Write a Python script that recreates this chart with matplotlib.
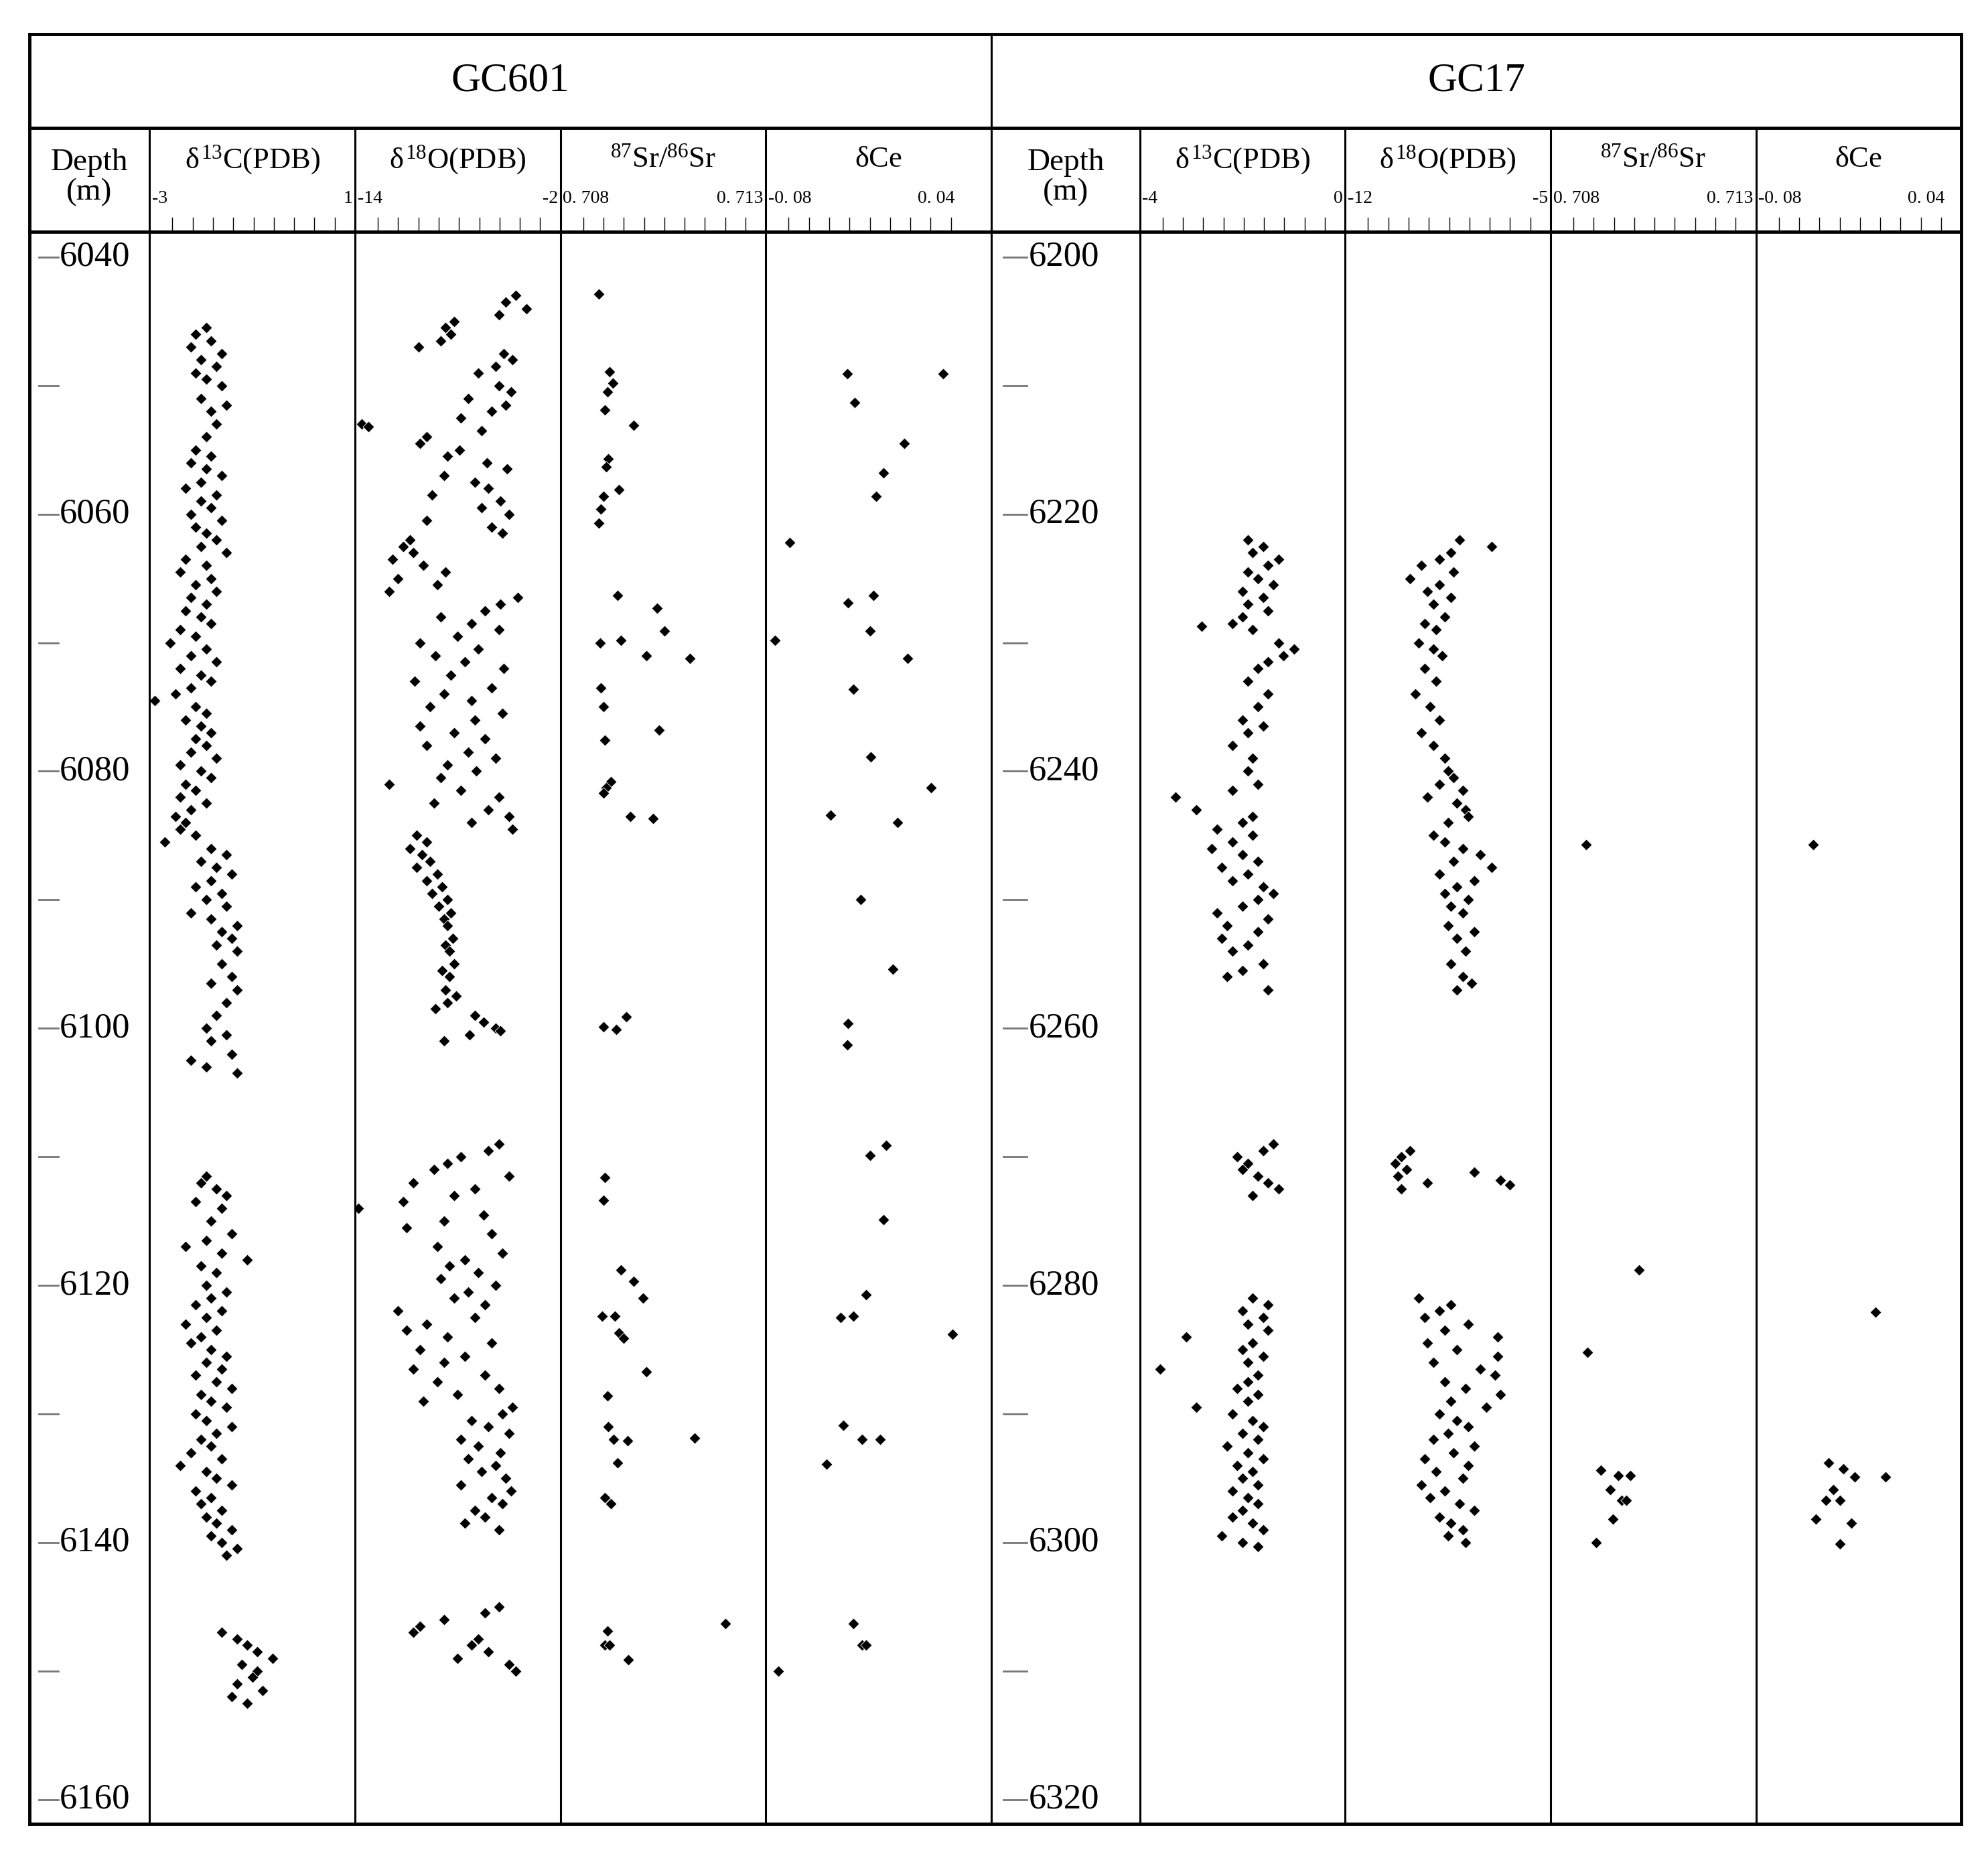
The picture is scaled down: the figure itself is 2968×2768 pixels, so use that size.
import matplotlib
matplotlib.use('Agg')
from matplotlib import pyplot as plt
from matplotlib.lines import Line2D

plt.rcParams['font.family'] = ['Liberation Serif', 'DejaVu Serif']
plt.rcParams['mathtext.fontset'] = 'custom'
plt.rcParams['mathtext.rm'] = 'Liberation Serif'
plt.rcParams['mathtext.it'] = 'Liberation Serif'

# ---------------- data ----------------
c601_depth = [6045.5,6046,6046.5,6047,6047.5,6048,6048.5,6049,6049.5,6050,6051,6051.5,6052,6053,6054,6055,6055.5,6056,6056.5,6057,
    6057.5,6058,6058.5,6059,6059.5,6060,6060.5,6061,6061.5,6062,6062.5,6063,6063.5,6064,6064.5,6065,6065.5,6066,6066.5,6067,
    6067.5,6068,6068.5,6069,6069.5,6070,6070.5,6071,6071.5,6072,6072.5,6073,6073.5,6074,6074.5,6075,6075.5,6076,6076.5,6077,
    6077.5,6078,6078.5,6079,6079.5,6080,6080.5,6081,6081.5,6082,6082.5,6083,6083.5,6084,6084.5,6085,6085.5,6086,6086.5,6087,
    6087.5,6088,6088.5,6089,6089.5,6090,6090.5,6091,6091.5,6092,6092.5,6093,6093.5,6094,6095,6096,6096.5,6097,6098,6099,
    6100,6100.5,6101,6102,6102.5,6103,6103.5,
    6111.5,6112,6112.5,6113,6113.5,6114,6115,6116,6116.5,6117,6117.5,6118,6118.5,6119,6120,6120.5,6121,6121.5,6122,6122.5,
    6123,6123.5,6124,6124.5,6125,6125.5,6126,6126.5,6127,6127.5,6128,6128.5,6129,6129.5,6130,6130.5,6131,6131.5,6132,6132.5,
    6133,6133.5,6134,6134.5,6135,6135.5,6136,6136.5,6137,6137.5,6138,6138.5,6139,6139.5,6140,6140.5,6141,
    6147,6147.5,6148,6148.5,6149,6149.5,6150,6150.5,6151,6151.5,6152,6152.5]
c601_val = [-1.9,-2.1,-1.8,-2.2,-1.6,-2.0,-1.7,-2.1,-1.9,-1.6,-2.0,-1.5,-1.8,-1.7,-1.9,-2.1,-1.8,-2.2,-1.9,-1.6,
    -2.0,-2.3,-1.7,-2.0,-1.8,-2.2,-1.6,-2.1,-1.9,-1.7,-2.0,-1.5,-2.3,-1.9,-2.4,-1.8,-2.1,-1.7,-2.2,-1.9,
    -2.3,-2.0,-1.8,-2.4,-2.1,-2.6,-1.9,-2.2,-1.7,-2.4,-2.0,-1.8,-2.2,-2.5,-2.9,-2.1,-1.9,-2.3,-2.0,-1.8,
    -2.1,-1.9,-2.2,-1.7,-2.4,-2.0,-1.8,-2.3,-2.1,-2.4,-1.9,-2.2,-2.5,-2.3,-2.4,-2.1,-2.7,-1.8,-1.5,-2.0,
    -1.7,-1.4,-1.8,-2.1,-1.6,-1.9,-1.5,-2.2,-1.8,-1.3,-1.6,-1.4,-1.7,-1.3,-1.6,-1.4,-1.8,-1.3,-1.5,-1.7,
    -1.9,-1.5,-1.8,-1.4,-2.2,-1.9,-1.3,
    -1.9,-2.0,-1.7,-1.5,-2.1,-1.6,-1.8,-1.4,-1.9,-2.3,-1.6,-1.1,-2.0,-1.7,-1.9,-1.5,-1.8,-2.1,-1.6,-1.9,
    -2.3,-1.7,-2.0,-2.2,-1.8,-1.5,-1.9,-1.6,-2.1,-1.7,-1.4,-2.0,-1.8,-1.5,-2.1,-1.9,-1.4,-1.7,-2.0,-1.8,
    -2.2,-1.6,-2.4,-1.9,-1.7,-1.4,-2.1,-1.8,-2.0,-1.6,-1.9,-1.7,-1.4,-1.8,-1.6,-1.3,-1.5,
    -1.6,-1.3,-1.1,-0.9,-0.6,-1.2,-0.9,-1.0,-1.3,-0.8,-1.4,-1.1]

o601_depth = [6043,6043.5,6044,6044.5,6045,6045.5,6046,6046.5,6047,6047.5,6048,6048.5,6049,6050,6050.5,6051,6051.5,6052,6052.5,6053,
    6053.2,6053.5,6054,6054.5,6055,6055.5,6056,6056.5,6057,6057.5,6058,6058.5,6059,6059.5,6060,6060.5,6061,6061.5,6062,6062.5,
    6063,6063.5,6064,6064.5,6065,6065.5,6066,6066.5,6067,6067.5,6068,6068.5,6069,6069.5,6070,6070.5,6071,6071.5,6072,6072.5,
    6073,6073.5,6074,6074.5,6075,6075.5,6076,6076.5,6077,6077.5,6078,6078.5,6079,6079.5,6080,6080.5,6081,6081.5,6082,6082.5,
    6083,6083.5,6084,6084.5,6085,6085.5,6086,6086.5,6087,6087.5,6088,6088.5,6089,6089.5,6090,6090.5,6091,6091.5,6092,6093,
    6093.5,6094,6095,6095.5,6096,6097,6097.5,6098,6098.5,6099,6099.5,6100,6100.5,6101,6100.2,
    6109,6109.5,6110,6110.5,6111,6111.5,6112,6112.5,6113,6113.5,6114,6114.5,6115,6115.5,6116,6117,6117.5,6118,6118.5,6119,
    6119.5,6120,6120.5,6121,6121.5,6122,6122.5,6123,6123.5,6124,6124.5,6125,6125.5,6126,6126.5,6127,6127.5,6128,6128.5,6129,
    6129.5,6130,6130.5,6131,6131.5,6132,6132.5,6133,6133.5,6134,6134.5,6135,6135.5,6136,6136.5,6137,6137.5,6138,6138.5,6139,
    6145.5,6145,6146,6146.5,6147,6147.5,6148,6148.5,6149,6149.5,6150]
o601_val = [-4.6,-5.2,-4.0,-5.6,-8.2,-8.7,-8.4,-9.0,-10.3,-5.3,-4.8,-5.8,-6.8,-5.6,-4.9,-7.4,-5.2,-6.0,-7.8,-13.6,
    -13.2,-6.6,-9.8,-10.2,-7.9,-8.6,-6.3,-5.1,-8.8,-7.0,-6.2,-9.5,-5.5,-6.6,-5.0,-9.8,-6.0,-5.4,-10.8,-11.2,
    -10.6,-11.8,-10.0,-8.7,-11.5,-9.2,-12.0,-4.5,-5.5,-6.4,-9.0,-7.2,-5.6,-8.0,-10.2,-6.8,-9.3,-7.6,-5.3,-8.4,
    -10.5,-6.0,-8.8,-7.2,-9.6,-5.4,-7.0,-10.2,-8.2,-6.4,-9.8,-7.4,-5.8,-8.6,-6.9,-9.0,-12.0,-7.8,-5.6,-9.4,
    -6.2,-5.0,-7.2,-4.8,-10.4,-9.8,-10.8,-10.1,-9.6,-10.4,-9.2,-9.8,-8.9,-9.5,-8.6,-9.1,-8.4,-8.8,-8.6,-8.3,
    -8.7,-8.5,-8.2,-8.9,-8.5,-8.7,-8.1,-8.6,-9.3,-7.0,-6.5,-5.8,-7.3,-8.8,-5.5,
    -5.6,-6.2,-7.8,-8.6,-9.4,-5.0,-10.6,-7.0,-8.2,-11.2,-13.8,-6.5,-8.8,-11.0,-6.0,-9.2,-5.4,-7.6,-8.5,-6.8,
    -9.0,-5.8,-7.4,-8.2,-6.4,-11.5,-7.0,-9.8,-11.0,-8.6,-6.0,-10.2,-7.6,-8.8,-10.6,-6.4,-9.2,-5.6,-8.0,-10.0,
    -4.8,-5.4,-7.2,-6.2,-5.0,-7.8,-6.8,-5.5,-7.4,-5.8,-6.6,-5.2,-7.8,-4.9,-6.0,-5.4,-7.0,-6.4,-7.6,-5.6,
    -6.4,-5.6,-8.8,-10.2,-10.6,-6.8,-7.2,-6.2,-8.0,-5.0,-4.6]

sr601_depth = [6042.9,6048.9,6049.8,6050.5,6051.9,6053.1,6055.7,6056.3,6058.1,6058.6,6059.6,6060.7,6066.3,6067.3,6069.1,6070.0,
    6069.8,6071.0,6071.2,6073.5,6075.0,6076.8,6077.6,6080.8,6081.3,6081.7,6083.5,6083.7,6099.9,6100.1,6099.1,6111.6,6113.4,
    6118.8,6119.7,6121.0,6122.4,6122.4,6123.7,6124.1,6126.7,6128.6,6131.0,6132.0,6132.1,6131.9,6133.8,6136.5,6137.0,6146.9,
    6148.0,6148.0,6149.1,6146.3]
sr601_val = [0.70893,0.70920,0.70927,0.70914,0.70908,0.70979,0.70917,0.70911,0.70942,0.70905,0.70899,0.70893,0.70939,0.71035,
    0.71053,0.70896,0.70948,0.71010,0.71115,0.70899,0.70905,0.71041,0.70908,0.70923,0.70911,0.70905,0.70970,0.71025,0.70905,
    0.70936,0.70960,0.70908,0.70905,0.70948,0.70979,0.71001,0.70902,0.70933,0.70942,0.70954,0.71010,0.70914,0.70917,0.70929,
    0.70963,0.71127,0.70939,0.70908,0.70923,0.70914,0.70908,0.70920,0.70966,0.71201]

ce601_depth = [6049.1,6051.3,6049.1,6054.5,6056.8,6058.6,6062.2,6066.9,6066.3,6069.1,6069.8,6071.2,6073.6,6078.9,6081.3,6083.4,
    6084.0,6090.0,6095.4,6099.6,6101.3,6109.9,6109.1,6114.9,6120.7,6122.5,6122.4,6123.8,6130.9,6132.0,6132.0,6133.9,6146.3,
    6148.0,6148.0,6150.0]
ce601_val = [-0.0291,-0.0244,0.0313,0.0067,-0.0061,-0.0108,-0.0649,-0.0283,-0.0124,-0.0148,-0.0744,0.0090,-0.0251,-0.0140,
    0.0234,-0.0395,0.0027,-0.0204,-0.0005,-0.0283,-0.0291,-0.0148,-0.0045,-0.0061,-0.0172,-0.0331,-0.0251,0.0369,-0.0315,
    -0.0196,-0.0084,-0.0418,-0.0251,-0.0196,-0.0172,-0.0720]

c17_depth = [6222,6222.5,6223,6223.5,6224,6224.5,6225,6225.5,6226,6226.5,6227,6227.5,6228,6228.5,6229,6228.7,6230,6230.5,6231,6231.5,
    6232,6233,6234,6235,6236,6236.5,6237,6238,6239,6240,6241,6241.5,6242,6243,6243.5,6244,6244.5,6245,6245.5,6246,
    6246.5,6247,6247.5,6248,6248.5,6249,6249.5,6250,6250.5,6251,6251.5,6252,6252.5,6253,6253.5,6254,6255,6255.5,6256,6257,
    6269,6269.5,6270,6270.5,6271,6271.5,6272,6272.5,6273,
    6281,6281.5,6282,6282.5,6283,6283.5,6284,6284.5,6285,6285.5,6286,6286.5,6287,6287.5,6288,6288.5,6289,6289.5,6290,6290.5,
    6291,6291.5,6292,6292.5,6293,6293.5,6294,6294.5,6295,6295.5,6296,6296.5,6297,6297.5,6298,6298.5,6299,6299.5,6300,6300.3]
c17_val = [-1.9,-1.6,-1.8,-1.3,-1.5,-1.9,-1.7,-1.4,-2.0,-1.6,-1.9,-1.5,-2.0,-2.2,-1.8,-2.8,-1.3,-1.0,-1.2,-1.5,
    -1.7,-1.9,-1.5,-1.7,-2.0,-1.6,-1.9,-2.2,-1.8,-1.9,-1.7,-2.2,-3.3,-2.9,-1.8,-2.0,-2.5,-1.8,-2.2,-2.6,
    -2.0,-1.7,-2.4,-1.9,-2.2,-1.6,-1.4,-1.7,-2.0,-2.5,-1.5,-2.3,-1.7,-2.4,-1.9,-2.2,-1.6,-2.0,-2.3,-1.5,
    -1.4,-1.6,-2.1,-1.9,-2.0,-1.7,-1.5,-1.3,-1.8,
    -1.8,-1.5,-2.0,-1.6,-1.9,-1.5,-3.1,-1.8,-2.0,-1.6,-1.9,-3.6,-1.7,-1.9,-2.1,-1.7,-1.9,-2.9,-2.2,-1.8,
    -1.6,-2.0,-1.7,-2.3,-1.9,-1.6,-2.1,-1.8,-2.0,-1.7,-2.2,-1.9,-1.7,-2.0,-2.2,-1.8,-1.6,-2.4,-2.0,-1.7]

o17_depth = [6222,6222.5,6223,6223.5,6224,6224.5,6225,6225.5,6226,6226.5,6227,6228,6228.5,6229,6230,6230.5,6231,6232,6233,6234,
    6235,6236,6237,6238,6239,6240,6240.5,6241,6241.5,6242,6242.5,6243,6243.5,6244,6245,6245.5,6246,6246.5,6247,6247.5,
    6248,6248.5,6249,6249.5,6250,6250.5,6251,6252,6252.5,6253,6254,6255,6256,6256.5,6257,
    6269.5,6270,6270.5,6271,6271.5,6272,6272.5,6271.2,6271.8,6272.2,
    6281,6281.5,6282,6282.5,6283,6283.5,6284,6284.5,6285,6285.5,6286,6286.5,6287,6287.5,6288,6288.5,6289,6289.5,6290,6290.5,
    6291,6291.5,6292,6292.5,6293,6293.5,6294,6294.5,6295,6295.5,6296,6296.5,6297,6297.5,6298,6298.5,6299,6299.5,6300]
o17_val = [-8.1,-7.0,-8.4,-8.8,-9.4,-8.3,-9.8,-8.8,-9.2,-8.4,-9.0,-8.6,-9.3,-8.9,-9.5,-9.0,-8.7,-9.3,-8.9,-9.6,
    -9.1,-8.8,-9.4,-9.0,-8.6,-8.5,-8.3,-8.8,-8.0,-9.2,-8.2,-7.9,-7.8,-8.5,-9.0,-8.6,-8.0,-7.4,-8.3,-7.0,
    -8.8,-7.6,-8.2,-8.6,-7.8,-8.4,-8.0,-8.5,-7.6,-8.2,-7.9,-8.4,-8.0,-7.7,-8.2,
    -9.8,-10.1,-10.3,-9.9,-10.2,-9.2,-10.1,-7.6,-6.7,-6.4,
    -9.5,-8.4,-8.8,-9.3,-7.8,-8.6,-6.8,-9.2,-8.2,-6.8,-9.0,-7.4,-6.9,-8.6,-7.9,-6.7,-8.4,-7.2,-8.8,-8.2,
    -7.8,-8.5,-9.0,-7.6,-8.3,-9.3,-7.8,-8.9,-8.0,-9.4,-8.6,-9.1,-8.1,-7.6,-8.8,-8.4,-8.0,-8.5,-7.9]

sr17_depth = [6245.7,6278.8,6285.2,6294.4,6294.8,6294.8,6295.9,6296.7,6296.7,6298.2,6300.0]
sr17_val = [0.70886,0.71016,0.70889,0.70923,0.70964,0.70994,0.70945,0.70973,0.70985,0.70951,0.70911]

ce17_depth = [6245.7,6282.1,6293.8,6294.3,6294.9,6294.9,6295.9,6296.7,6296.7,6298.2,6298.5,6300.1]
ce17_val = [-0.0442,-0.0053,-0.0347,-0.0251,-0.0180,0.0011,-0.0315,-0.0275,-0.0363,-0.0426,-0.0204,-0.0275]

# ---------------- layout (reference pixel frame 1568 x 1464) ----------------
W, H = 1568.0, 1464.0
fig = plt.figure(figsize=(29.68, 27.68), dpi=100)

def fx(px): return px / W
def fy(py): return 1 - py / H

def hline(y, x0, x1, lw):
    fig.add_artist(Line2D([fx(x0), fx(x1)], [fy(y), fy(y)], color='black', lw=lw))

def vline(x, y0, y1, lw):
    fig.add_artist(Line2D([fx(x), fx(x)], [fy(y0), fy(y1)], color='black', lw=lw))

L, R, T, B = 23, 1547, 27, 1440
HDR1, HDR2 = 101, 183

wells = [
    dict(name='GC601', x0=23, x1=782, depth=(6040, 6160),
         cols=[(118, 280, -3, 1, '-3', '1', c601_depth, c601_val),
               (280, 442, -14, -2, '-14', '-2', o601_depth, o601_val),
               (442, 604, 0.708, 0.713, '0. 708', '0. 713', sr601_depth, sr601_val),
               (604, 782, -0.08, 0.04, '-0. 08', '0. 04', ce601_depth, ce601_val)]),
    dict(name='GC17', x0=782, x1=1547, depth=(6200, 6320),
         cols=[(899, 1061, -4, 0, '-4', '0', c17_depth, c17_val),
               (1061, 1223, -12, -5, '-12', '-5', o17_depth, o17_val),
               (1223, 1385, 0.708, 0.713, '0. 708', '0. 713', sr17_depth, sr17_val),
               (1385, 1547, -0.08, 0.04, '-0. 08', '0. 04', ce17_depth, ce17_val)]),
]
titles = ['$\\delta^{13}$C(PDB)', '$\\delta^{18}$O(PDB)', '$^{87}$Sr/$^{86}$Sr', '$\\delta$Ce']

y_top, y_bot = 203, 1421

for w in wells:
    d0, d1 = w['depth']
    per_px = (d1 - d0) / (y_bot - y_top)
    ylim = (d1 + (B - y_bot) * per_px, d0 - (y_top - HDR2) * per_px)
    fig.text(fx((w['x0'] + w['x1']) / 2), fy(64), w['name'], ha='center', va='center', fontsize=44)
    dcol_r = w['cols'][0][0]
    fig.text(fx((w['x0'] + dcol_r) / 2), fy(140), 'Depth\n(m)', ha='center', va='center',
             fontsize=34, linespacing=1.05)
    ax = fig.add_axes([fx(w['x0']), fy(B), fx(dcol_r) - fx(w['x0']), fy(HDR2) - fy(B)])
    ax.set_ylim(*ylim)
    ax.set_xlim(0, 1)
    ax.axis('off')
    for d in range(d0, d1 + 1, 10):
        ax.plot([0.08, 0.24], [d, d], color='#777777', lw=2)
        if (d - d0) % 20 == 0:
            ax.text(0.25, d, str(d), ha='left', va='center', fontsize=38)
    for i, (cx0, cx1, vmin, vmax, lo, hi, dep, val) in enumerate(w['cols']):
        width_px = cx1 - cx0
        span = 151 if i == 3 else width_px
        xmax = vmin + (vmax - vmin) * width_px / span
        ax = fig.add_axes([fx(cx0), fy(B), fx(cx1) - fx(cx0), fy(HDR2) - fy(B)])
        ax.scatter(val, dep, marker='D', s=75, c='black', edgecolors='white', linewidths=0.6)
        ax.set_xlim(vmin, xmax)
        ax.set_ylim(*ylim)
        ax.axis('off')
        fig.text(fx((cx0 + cx1) / 2), fy(126), titles[i], ha='center', va='center', fontsize=32)
        fig.text(fx(cx0 + 2), fy(157), lo, ha='left', va='center', fontsize=20)
        fig.text(fx(cx0 + span - 2), fy(157), hi, ha='right', va='center', fontsize=20)
        for k in range(9):
            vline(cx0 + 18 + 16 * k, 172, HDR2, 1.0)
        vline(cx0, HDR1, B, 2.2)

hline(T, L, R, 3.5)
hline(B, L, R, 3.5)
vline(L, T, B, 3.5)
vline(R, T, B, 3.5)
hline(HDR1, L, R, 3.5)
hline(HDR2, L, R, 3.5)
vline(782, T, B, 2.2)

fig.savefig('out.png', dpi=100, facecolor='white')
